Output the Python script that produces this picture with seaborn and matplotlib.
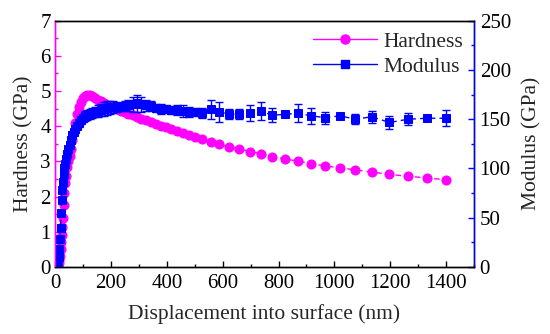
import matplotlib
matplotlib.use("Agg")
import matplotlib.pyplot as plt
import seaborn as sns
import pandas as pd
from matplotlib.lines import Line2D
from matplotlib.ticker import MultipleLocator

displacement = [12, 14, 16, 18, 20, 22, 24, 26, 28, 31, 34, 37, 40, 44, 48, 52, 57, 62, 67, 73,
                79, 86, 93, 100, 108, 116, 125, 134, 143, 153, 163, 174, 185, 197, 209, 222, 235,
                249, 263, 278, 293, 309, 325, 342, 360, 378, 397, 416, 436, 457, 478, 500, 525,
                557, 588, 623, 660, 698, 738, 778, 823, 869, 917, 968, 1020, 1074, 1134, 1197,
                1264, 1332, 1400]
hardness = [0.05, 0.1, 0.2, 0.3, 0.5, 0.7, 0.9, 1.15, 1.4, 1.75, 2.1, 2.4, 2.6, 2.85, 3.0, 3.15,
            3.35, 3.6, 3.85, 4.1, 4.35, 4.55, 4.7, 4.8, 4.87, 4.9, 4.88, 4.85, 4.8, 4.75, 4.71,
            4.66, 4.61, 4.57, 4.52, 4.48, 4.44, 4.40, 4.36, 4.31, 4.27, 4.22, 4.17, 4.12, 4.07,
            4.02, 3.97, 3.92, 3.87, 3.81, 3.76, 3.70, 3.65, 3.56, 3.49, 3.42, 3.35, 3.28, 3.22,
            3.14, 3.07, 3.01, 2.94, 2.87, 2.82, 2.76, 2.70, 2.63, 2.58, 2.53, 2.48]
modulus = [3, 10, 18, 28, 40, 55, 68, 78, 86, 94, 100, 105, 110, 115, 120, 124, 129, 134, 137,
           140, 143, 146, 149, 151, 153, 154, 155, 156, 157, 158, 159, 160, 161, 162, 162, 162,
           162, 163, 164, 165, 166, 165, 164, 163, 161, 160, 160, 159, 159, 158, 157, 157, 156,
           160, 157.5, 155, 155, 156.5, 158, 154, 155, 156, 153.5, 151.5, 153.5, 150, 152.5,
           146.7, 150, 151, 151]
modulus_err = [1, 1, 1.5, 1.5, 2, 2, 2, 2, 2, 2, 2, 2, 2, 2, 2, 2, 3, 3, 3, 3, 3, 4, 4, 4, 5, 5,
               5, 5, 5, 6, 6, 7, 7, 7, 6, 5, 4, 5, 6, 8, 9, 8, 6, 5, 4, 5, 4, 4, 5, 6, 5, 4, 5,
               10, 10, 5, 5, 8, 9, 7, 2, 9, 8, 6, 2, 5, 6, 7, 6, 2, 8]

df = pd.DataFrame({"Displacement": displacement, "Hardness": hardness,
                   "Modulus": modulus, "Err": modulus_err})

sns.set_theme(style="ticks")
plt.rcParams["font.family"] = ["Liberation Serif", "DejaVu Serif"]

MAG = "#FF00FF"
BLU = "#0000FF"
FS_TICK = 15
FS_LAB = 15.5

fig = plt.figure(figsize=(5.5, 3.34), dpi=100)
ax = fig.add_axes([0.1, 0.2006, 0.762, 0.7374])
ax2 = ax.twinx()

sns.lineplot(data=df, x="Displacement", y="Hardness", ax=ax, color=MAG, marker="o",
             markersize=6.5, markeredgecolor=MAG, linewidth=1.0,
             dashes=False, legend=False)
ax.lines[-1].set_linestyle((0, (4, 3)))

ax2.errorbar(df["Displacement"], df["Modulus"], yerr=df["Err"], fmt="none",
             ecolor=BLU, elinewidth=1.0, capsize=3, capthick=1.0)
sns.lineplot(data=df, x="Displacement", y="Modulus", ax=ax2, color=BLU, marker="s",
             markersize=6, markeredgecolor=BLU, linewidth=1.0, dashes=False, legend=False)
ax2.lines[-1].set_linestyle((0, (4, 3)))

ax.set_xlim(0, 1500)
ax.set_ylim(0, 7)
ax2.set_ylim(0, 250)
ax.xaxis.set_major_locator(MultipleLocator(200))
ax.xaxis.set_minor_locator(MultipleLocator(100))
ax.yaxis.set_major_locator(MultipleLocator(1))
ax.yaxis.set_minor_locator(MultipleLocator(0.5))
ax2.yaxis.set_major_locator(MultipleLocator(50))
ax2.yaxis.set_minor_locator(MultipleLocator(25))

for a in (ax, ax2):
    a.tick_params(which="both", direction="in", labelsize=FS_TICK, colors="black")
    a.tick_params(which="major", length=4, width=1)
    a.tick_params(which="minor", length=2.5, width=1)

ax.tick_params(axis="y", which="both", color=MAG, pad=3)
ax2.tick_params(axis="y", which="both", color=BLU, pad=4)
ax.tick_params(axis="x", which="both", color="black", pad=5)

for a in (ax, ax2):
    for s in a.spines.values():
        s.set_visible(True)
        s.set_linewidth(1.0)
        s.set_color("black")
ax.spines["left"].set_color(MAG)
ax2.spines["left"].set_color(MAG)
ax2.spines["right"].set_color(BLU)

ax.set_xlabel("Displacement into surface (nm)", fontsize=FS_LAB, labelpad=8)
ax.set_ylabel("Hardness (GPa)", fontsize=FS_LAB, labelpad=5)
ax2.set_ylabel("Modulus (GPa)", fontsize=FS_LAB, rotation=90, labelpad=8)

handles = [Line2D([], [], color=MAG, marker="o", markersize=6.5, linestyle="-", lw=1.0),
           Line2D([], [], color=BLU, marker="s", markersize=6, linestyle="-", lw=1.0)]
ax.legend(handles, ["Hardness", "Modulus"], loc="upper right", frameon=False,
          fontsize=FS_LAB, handlelength=3, handletextpad=0.3, labelspacing=0.25,
          borderaxespad=0.1, bbox_to_anchor=(1.0, 1.0))

fig.savefig("out.png", dpi=100)
